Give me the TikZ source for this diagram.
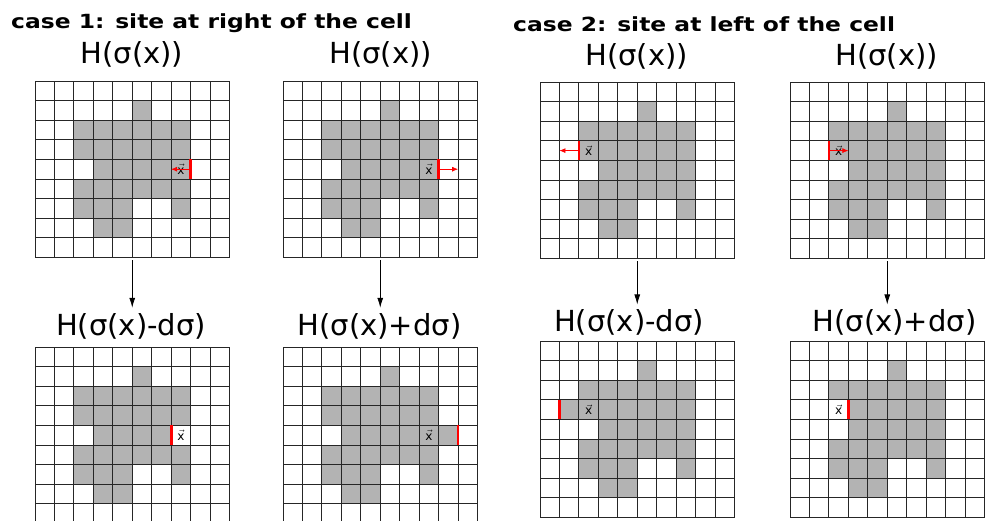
\documentclass[tikz,border=0pt]{standalone}
\usepackage{fontspec}
\setmainfont{DejaVu Sans}
\newfontfamily\titlefont{DejaVu Sans}[FakeStretch=1.2]
\usetikzlibrary{arrows.meta}
\definecolor{cellgray}{RGB}{179,179,179}
\definecolor{wallred}{RGB}{255,0,0}

% the occupied cells of sigma(x), same in every panel
\newcommand{\cellblob}{\fill[cellfill] (5,1) rectangle (6,2) (2,2) rectangle (8,4) (3,4) rectangle (8,5)
  (2,5) rectangle (8,6) (2,6) rectangle (5,7) (7,6) rectangle (8,7) (3,7) rectangle (5,8);}
% 10 x 9 lattice
\newcommand{\cellgrid}{%
  \foreach \i in {1,...,9} \draw[gridline] (\i,0) -- (\i,9);
  \foreach \j in {1,...,8} \draw[gridline] (0,\j) -- (10,\j);
  \draw[gridline] (0,0) rectangle (10,9);}

\begin{document}
\begin{tikzpicture}[x=1pt, y=-1pt,
      cellunit/.style={x=19.45pt, y=-19.6pt},
      cellfill/.style={fill=cellgray},
      gridline/.style={draw=black!85, line width=0.9pt},
      wall/.style={draw=wallred, line width=2.8pt},
      push/.style={-{Latex[length=6pt,width=5pt]}, draw=wallred, line width=0.7pt},
      site/.style={font=\fontsize{12}{12}\selectfont, inner sep=0},
      head/.style={font=\fontsize{29}{30}\selectfont, inner sep=0, anchor=base},
      casetitle/.style={font=\titlefont\bfseries\fontsize{19.5}{20}\selectfont, anchor=base west, inner sep=0},
      arr/.style={-{Latex[length=10pt,width=6pt]}, line width=0.8pt, shorten <=3pt, shorten >=5pt}
    ]
      \useasboundingbox (0,0) rectangle (995,520);
      \clip (0,0) rectangle (995,520);

      % Titles
      \node[casetitle] (case_right) at (11,28.3) {case 1: site at right of the cell};
      \node[casetitle] (case_left) at (513,31) {case 2: site at left of the cell};

      % Case 1: site at right of the cell
      \node[head] (lbl_right_base_m) at (132,63.3) {H(σ(x))};
      \node[head] (lbl_right_base_p) at (380.5,63.3) {H(σ(x))};
      \node[head] (lbl_right_m) at (131,335) {H(σ(x)-dσ)};
      \node[head] (lbl_right_p) at (379.5,335) {H(σ(x)+dσ)};

      \begin{scope}[shift={(35,81)}, cellunit]
        \cellblob \cellgrid
        \draw[wall] (8,4) -- (8,5);
        \node[site] at (7.5,4.5) {$\vec{\mbox{x}}$};
        \draw[push] (8,4.5) -- (7,4.5);
        \coordinate (right_base_m) at (5,9);
      \end{scope}
      \begin{scope}[shift={(283,81)}, cellunit]
        \cellblob \cellgrid
        \draw[wall] (8,4) -- (8,5);
        \node[site] at (7.5,4.5) {$\vec{\mbox{x}}$};
        \draw[push] (8,4.5) -- (9,4.5);
        \coordinate (right_base_p) at (5,9);
      \end{scope}
      \begin{scope}[shift={(35,347)}, cellunit]
        \cellblob
        \fill[white] (7,4) rectangle (8,5);
        \cellgrid
        \draw[wall] (7,4) -- (7,5);
        \node[site] at (7.5,4.5) {$\vec{\mbox{x}}$};
      \end{scope}
      \begin{scope}[shift={(283,347)}, cellunit]
        \cellblob
        \fill[cellfill] (8,4) rectangle (9,5);
        \cellgrid
        \draw[wall] (9,4) -- (9,5);
        \node[site] at (7.5,4.5) {$\vec{\mbox{x}}$};
      \end{scope}

      % Case 2: site at left of the cell
      \node[head] (lbl_left_base_m) at (636.7,65) {H(σ(x))};
      \node[head] (lbl_left_base_p) at (886.7,65) {H(σ(x))};
      \node[head] (lbl_left_m) at (629,331.7) {H(σ(x)-dσ)};
      \node[head] (lbl_left_p) at (894.5,331.7) {H(σ(x)+dσ)};

      \begin{scope}[shift={(540,82)}, cellunit]
        \cellblob \cellgrid
        \draw[wall] (2,3) -- (2,4);
        \node[site] at (2.5,3.5) {$\vec{\mbox{x}}$};
        \draw[push] (2,3.5) -- (1,3.5);
        \coordinate (left_base_m) at (5,9);
      \end{scope}
      \begin{scope}[shift={(790,82)}, cellunit]
        \cellblob \cellgrid
        \draw[wall] (2,3) -- (2,4);
        \node[site] at (2.5,3.5) {$\vec{\mbox{x}}$};
        \draw[push] (2,3.5) -- (3,3.5);
        \coordinate (left_base_p) at (5,9);
      \end{scope}
      \begin{scope}[shift={(540,341)}, cellunit]
        \cellblob
        \fill[cellfill] (1,3) rectangle (2,4);
        \cellgrid
        \draw[wall] (1,3) -- (1,4);
        \node[site] at (2.5,3.5) {$\vec{\mbox{x}}$};
      \end{scope}
      \begin{scope}[shift={(790,341)}, cellunit]
        \cellblob
        \fill[white] (2,3) rectangle (3,4);
        \cellgrid
        \draw[wall] (3,3) -- (3,4);
        \node[site] at (2.5,3.5) {$\vec{\mbox{x}}$};
      \end{scope}

      % Transitions
      \draw[arr] (right_base_m) -- (right_base_m |- lbl_right_m.north);
      \draw[arr] (right_base_p) -- (right_base_p |- lbl_right_p.north);
      \draw[arr] (left_base_m) -- (left_base_m |- lbl_left_m.north);
      \draw[arr] (left_base_p) -- (left_base_p |- lbl_left_p.north);
    \end{tikzpicture}
\end{document}
